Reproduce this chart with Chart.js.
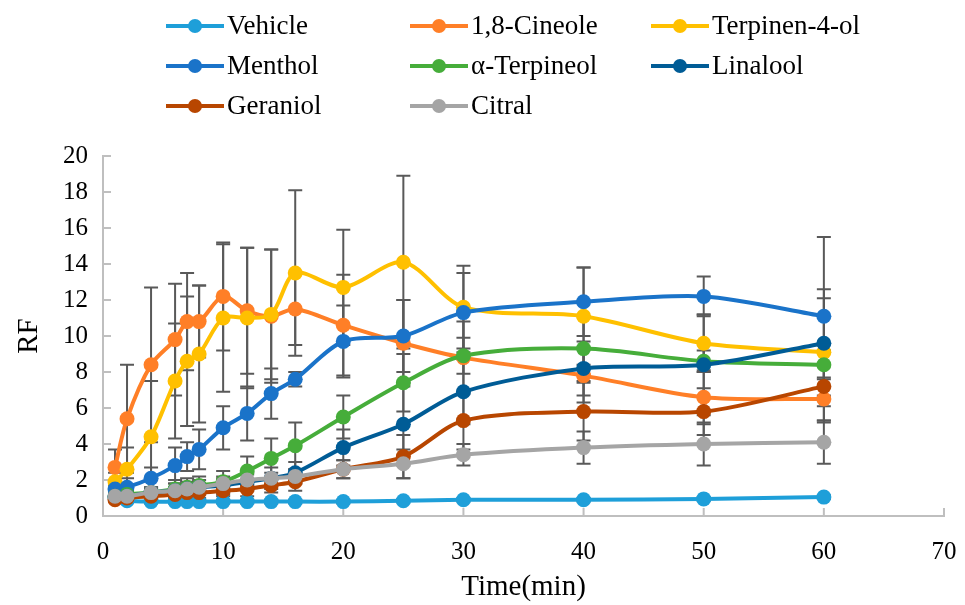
<!DOCTYPE html>
<html>
<head>
<meta charset="utf-8">
<script src="https://cdn.jsdelivr.net/npm/chart.js@4.4.1/dist/chart.umd.min.js"></script>
<style>
  html, body { margin: 0; padding: 0; background: #fff; }
  #wrap { width: 965px; height: 605px; position: relative; }
</style>
</head>
<body>
<div id="wrap"><canvas id="rfChart"></canvas></div>
<script>
// time points (min)
const times = [1, 2, 4, 6, 7, 8, 10, 12, 14, 16, 20, 25, 30, 40, 50, 60];

const seriesNames = ['Vehicle', '1,8-Cineole', 'Terpinen-4-ol', 'Menthol', 'α-Terpineol', 'Linalool', 'Geraniol', 'Citral'];
const seriesColors = ['#1E9FD9', '#FF7F27', '#FFC000', '#1A73C9', '#46AD3A', '#005C96', '#B84600', '#A5A5A5'];

const vehicle    = [1.0, 0.85, 0.8, 0.8, 0.8, 0.8, 0.8, 0.8, 0.8, 0.8, 0.8, 0.85, 0.9, 0.9, 0.95, 1.05];
const cineole    = [2.7, 5.4, 8.4, 9.8, 10.8, 10.8, 12.2, 11.4, 11.1, 11.5, 10.6, 9.6, 8.8, 7.8, 6.6, 6.5];
const terpinen4  = [1.9, 2.6, 4.4, 7.5, 8.6, 9.0, 11.0, 11.0, 11.2, 13.5, 12.7, 14.1, 11.6, 11.1, 9.6, 9.1];
const menthol    = [1.5, 1.6, 2.1, 2.8, 3.3, 3.7, 4.9, 5.7, 6.8, 7.6, 9.7, 10.0, 11.3, 11.9, 12.2, 11.1];
const terpineol  = [1.1, 1.2, 1.3, 1.5, 1.6, 1.7, 1.9, 2.5, 3.2, 3.9, 5.5, 7.4, 8.9, 9.3, 8.6, 8.4];
const linalool   = [1.1, 1.1, 1.3, 1.4, 1.5, 1.6, 1.7, 1.9, 2.1, 2.4, 3.8, 5.1, 6.9, 8.2, 8.4, 9.6];
const geraniol   = [0.9, 1.0, 1.1, 1.2, 1.3, 1.3, 1.4, 1.5, 1.7, 1.9, 2.6, 3.3, 5.3, 5.8, 5.8, 7.2];
const citral     = [1.1, 1.1, 1.3, 1.4, 1.5, 1.6, 1.8, 2.0, 2.1, 2.2, 2.6, 2.9, 3.4, 3.8, 4.0, 4.1];

// standard deviations (error bars)
const vehicleErr   = [0.1, 0.1, 0.1, 0.1, 0.1, 0.1, 0.1, 0.1, 0.1, 0.1, 0.1, 0.1, 0.1, 0.1, 0.1, 0.1];
const cineoleErr   = [1.0, 3.0, 4.3, 3.1, 2.7, 2.0, 3.0, 3.5, 3.7, 2.0, 2.8, 2.4, 2.0, 1.5, 1.5, 1.2];
const terpinen4Err = [0.5, 1.2, 3.1, 3.2, 3.6, 3.8, 4.1, 3.9, 3.6, 4.6, 3.2, 4.8, 2.3, 2.7, 1.6, 3.0];
const mentholErr   = [0.3, 0.5, 0.6, 1.0, 0.8, 1.1, 1.2, 1.5, 1.4, 0.4, 2.0, 2.0, 2.2, 1.9, 1.1, 4.4];
const terpineolErr = [0.2, 0.2, 0.3, 0.5, 0.5, 0.5, 0.6, 0.8, 1.1, 1.3, 1.2, 1.6, 1.0, 1.8, 0.6, 0.8];
const linaloolErr  = [0.2, 0.2, 0.3, 0.4, 0.4, 0.4, 0.5, 0.5, 0.6, 0.6, 1.0, 2.3, 1.8, 1.5, 2.8, 3.0];
const geraniolErr  = [0.1, 0.1, 0.2, 0.3, 0.3, 0.3, 0.3, 0.4, 0.4, 0.5, 0.5, 1.2, 1.6, 1.6, 1.3, 2.0];
const citralErr    = [0.1, 0.1, 0.2, 0.2, 0.2, 0.2, 0.3, 0.3, 0.3, 0.4, 0.5, 0.8, 0.6, 0.9, 1.2, 1.2];

const seriesValues = [vehicle, cineole, terpinen4, menthol, terpineol, linalool, geraniol, citral];
const seriesErrors = [vehicleErr, cineoleErr, terpinen4Err, mentholErr, terpineolErr, linaloolErr, geraniolErr, citralErr];

const xTicks = [0, 10, 20, 30, 40, 50, 60, 70];
const yTicks = [0, 2, 4, 6, 8, 10, 12, 14, 16, 18, 20];

const FONT = "'Liberation Serif', 'DejaVu Serif', serif";

// error bars, drawn under the lines
const errorBars = {
    id: 'errorBars',
    beforeDatasetsDraw(chart) {
        const { ctx, scales: { x, y } } = chart;
        ctx.save();
        ctx.strokeStyle = '#595959';
        ctx.lineWidth = 2;
        chart.data.datasets.forEach((ds, i) => {
            const err = seriesErrors[i];
            ds.data.forEach((p, j) => {
                const px = x.getPixelForValue(p.x);
                const top = y.getPixelForValue(p.y + err[j]);
                const bot = y.getPixelForValue(Math.max(0, p.y - err[j]));
                ctx.beginPath();
                ctx.moveTo(px, top); ctx.lineTo(px, bot);
                ctx.moveTo(px - 7, top); ctx.lineTo(px + 7, top);
                ctx.moveTo(px - 7, bot); ctx.lineTo(px + 7, bot);
                ctx.stroke();
            });
        });
        ctx.restore();
    }
};

// inside tick marks like the original
const innerTicks = {
    id: 'innerTicks',
    beforeDatasetsDraw(chart) {
        const { ctx, scales: { x, y } } = chart;
        ctx.save();
        ctx.strokeStyle = '#BFBFBF';
        ctx.lineWidth = 2;
        ctx.beginPath();
        xTicks.forEach(v => {
            const px = x.getPixelForValue(v);
            ctx.moveTo(px, y.bottom); ctx.lineTo(px, y.bottom - 8);
        });
        yTicks.forEach(v => {
            const py = y.getPixelForValue(v);
            ctx.moveTo(x.left, py); ctx.lineTo(x.left + 8, py);
        });
        ctx.stroke();
        ctx.restore();
    }
};

// legend in three columns
const gridLegend = {
    id: 'gridLegend',
    afterDraw(chart) {
        const ctx = chart.ctx;
        const cols = [166, 410, 651];
        const rows = [26, 66, 106];
        ctx.save();
        ctx.font = '27px ' + FONT;
        ctx.textBaseline = 'middle';
        chart.data.datasets.forEach((ds, i) => {
            const cx = cols[i % 3];
            const cy = rows[Math.floor(i / 3)];
            ctx.strokeStyle = ds.borderColor;
            ctx.lineWidth = 4;
            ctx.beginPath();
            ctx.moveTo(cx, cy); ctx.lineTo(cx + 58, cy);
            ctx.stroke();
            ctx.fillStyle = ds.borderColor;
            ctx.beginPath();
            ctx.arc(cx + 29, cy, 7, 0, Math.PI * 2);
            ctx.fill();
            ctx.fillStyle = '#000';
            ctx.fillText(ds.label, cx + 61, cy + 1);
        });
        ctx.restore();
    }
};

document.addEventListener("DOMContentLoaded", () => {

    const datasets = seriesNames.map((name, i) => ({
        label: name,
        data: times.map((t, j) => ({ x: t, y: seriesValues[i][j] })),
        borderColor: seriesColors[i],
        backgroundColor: seriesColors[i],
        pointBackgroundColor: seriesColors[i],
        pointBorderWidth: 0,
        pointRadius: 7.5,
        borderWidth: 4,
        tension: 0.3,
        order: seriesNames.length - i
    }));

    const ctx = document.getElementById('rfChart').getContext('2d');
    new Chart(ctx, {
        type: 'line',
        data: { datasets: datasets },
        plugins: [errorBars, innerTicks, gridLegend],
        options: {
            responsive: true,
            maintainAspectRatio: false,
            animation: false,
            layout: { padding: { top: 156, right: 21, left: 0, bottom: 0 } },
            plugins: {
                legend: { display: false },
                tooltip: { enabled: false }
            },
            scales: {
                x: {
                    type: 'linear',
                    min: 0,
                    max: 70,
                    afterBuildTicks: (scale) => { scale.ticks = xTicks.map(v => ({ value: v })); },
                    afterFit: (scale) => { scale.height = 89; scale.paddingRight = 0; scale.paddingLeft = 0; },
                    grid: { display: true, drawOnChartArea: false, drawTicks: false },
                    border: { color: '#BFBFBF', width: 2 },
                    ticks: { color: '#000', font: { family: FONT, size: 25 }, padding: 21, maxRotation: 0 },
                    title: { display: true, text: 'Time(min)', color: '#000', font: { family: FONT, size: 29 }, padding: { top: 0, bottom: 0 } }
                },
                y: {
                    min: 0,
                    max: 20,
                    afterBuildTicks: (scale) => { scale.ticks = yTicks.map(v => ({ value: v })); },
                    afterFit: (scale) => { scale.width = 103; },
                    grid: { display: true, drawOnChartArea: false, drawTicks: false },
                    border: { color: '#BFBFBF', width: 2 },
                    ticks: { color: '#000', font: { family: FONT, size: 25 }, padding: 15 },
                    title: { display: true, text: 'RF', color: '#000', font: { family: FONT, size: 29 }, padding: { top: 12, bottom: 0 } }
                }
            }
        }
    });

});
</script>
</body>
</html>
